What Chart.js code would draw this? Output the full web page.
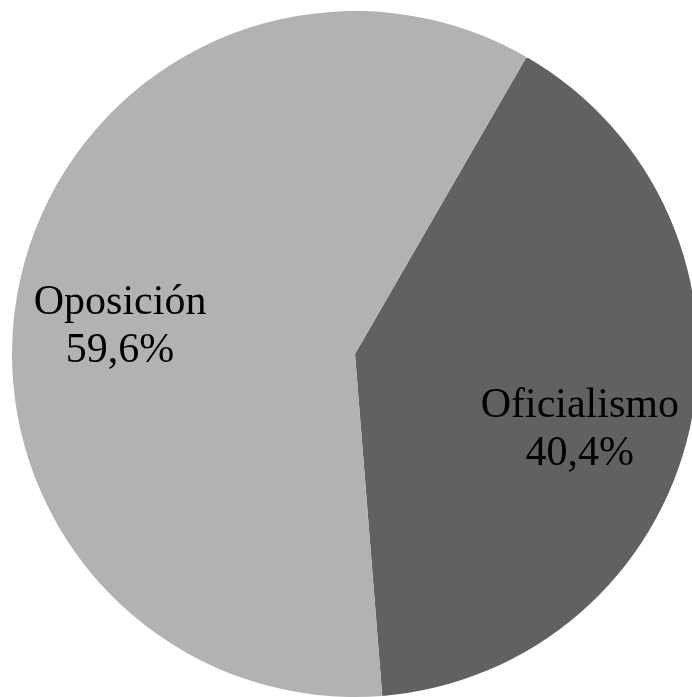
<!DOCTYPE html>
<html>
<head>
<meta charset="utf-8">
<script src="https://cdn.jsdelivr.net/npm/chart.js@4"></script>
<style>
  html, body { margin: 0; padding: 0; background: #fff; overflow: hidden; width: 692px; height: 697px; }
  #wrap { position: absolute; left: 12px; top: 11px; width: 686px; height: 686px; }
</style>
</head>
<body>
<div id="wrap"><canvas id="chart" width="686" height="686"></canvas></div>
<script>
const categories = ['Oficialismo', 'Oposición'];
const shares = [40.4, 59.6];
const shareLabels = ['40,4%', '59,6%'];
const colors = ['#616161', '#b2b2b2'];
// small angular nudge (degrees) for where each label sits inside its slice
const labelNudge = [5.5, -5.8];

const sliceLabels = {
  id: 'sliceLabels',
  afterDatasetsDraw(chart) {
    const { ctx } = chart;
    const meta = chart.getDatasetMeta(0);
    ctx.save();
    ctx.font = '42px "Liberation Serif", "Times New Roman", serif';
    ctx.fillStyle = '#000';
    ctx.textAlign = 'center';
    ctx.textBaseline = 'alphabetic';
    meta.data.forEach((arc, i) => {
      const p = arc.getProps(['x', 'y', 'startAngle', 'endAngle', 'outerRadius'], true);
      const mid = (p.startAngle + p.endAngle) / 2 + labelNudge[i] * Math.PI / 180;
      const r = p.outerRadius * 0.69;
      const cx = p.x + Math.cos(mid) * r;
      const cy = p.y + Math.sin(mid) * r;
      ctx.fillText(categories[i], cx, cy - 11);
      ctx.fillText(shareLabels[i], cx, cy + 37);
    });
    ctx.restore();
  },
};

new Chart(document.getElementById('chart'), {
  type: 'pie',
  data: {
    labels: categories,
    datasets: [
      {
        data: shares,
        backgroundColor: colors,
        borderWidth: 0,
      },
    ],
  },
  options: {
    responsive: false,
    animation: false,
    rotation: 30,
    layout: { padding: 0 },
    plugins: { legend: { display: false }, tooltip: { enabled: false } },
  },
  plugins: [sliceLabels],
});
</script>
</body>
</html>
